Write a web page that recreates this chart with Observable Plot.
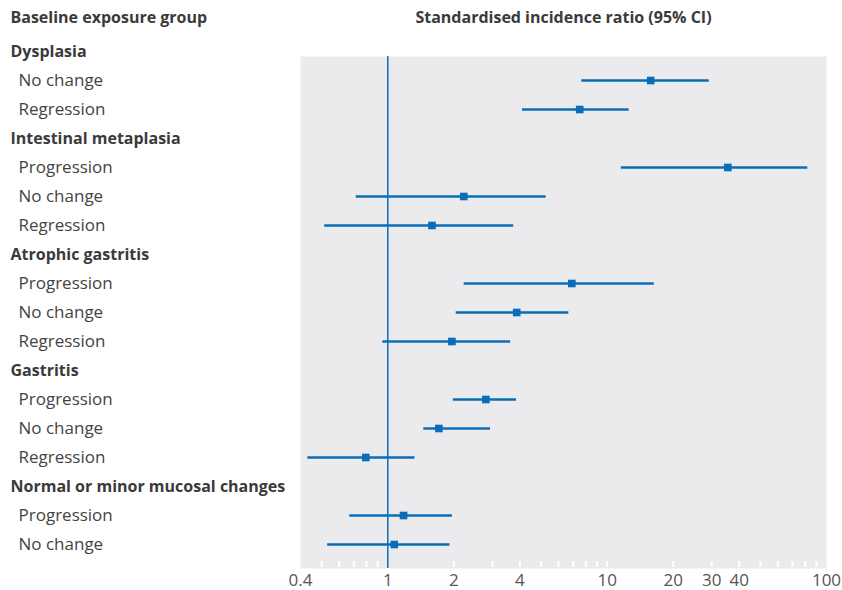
<!DOCTYPE html>
<html><head><meta charset="utf-8">
<script src="https://cdn.jsdelivr.net/npm/d3@7"></script>
<script src="https://cdn.jsdelivr.net/npm/@observablehq/plot@0.6"></script>
<style>body{margin:0;background:#fff;} svg{display:block}</style>
</head><body><div id="chart"></div>
<script>
const groups = ["Dysplasia", "Intestinal metaplasia", "Atrophic gastritis", "Gastritis", "Normal or minor mucosal changes"];
const itemGroup = ["Dysplasia", "Dysplasia",
  "Intestinal metaplasia", "Intestinal metaplasia", "Intestinal metaplasia",
  "Atrophic gastritis", "Atrophic gastritis", "Atrophic gastritis",
  "Gastritis", "Gastritis", "Gastritis",
  "Normal or minor mucosal changes", "Normal or minor mucosal changes"];
const itemChange = ["No change", "Regression",
  "Progression", "No change", "Regression",
  "Progression", "No change", "Regression",
  "Progression", "No change", "Regression",
  "Progression", "No change"];
const sir   = [15.8, 7.5, 35.5, 2.22, 1.59, 6.9, 3.87, 1.96, 2.8, 1.71, 0.794, 1.18, 1.07];
const lower = [7.66, 4.11, 11.6, 0.718, 0.516, 2.23, 2.05, 0.949, 1.99, 1.46, 0.432, 0.671, 0.532];
const upper = [29.2, 12.6, 82.2, 5.27, 3.75, 16.4, 6.69, 3.63, 3.86, 2.94, 1.33, 1.97, 1.92];
const xTicks = [0.4, 1, 2, 4, 10, 20, 30, 40, 100];
const minorTicks = [0.5, 0.6, 0.7, 0.8, 0.9, 2, 3, 4, 5, 6, 7, 8, 9, 10, 20, 30, 40, 50, 60, 70, 80, 90];
const headerLeft = "Baseline exposure group";
const headerRight = "Standardised incidence ratio (95% CI)";

const items = itemGroup.map((g, i) => ({id: g + "|" + itemChange[i], label: itemChange[i], sir: sir[i], lo: lower[i], hi: upper[i]}));
const groupRows = groups.map(g => ({id: g, label: g}));
const rowIds = [];
groups.forEach(g => { rowIds.push(g); items.filter((d, i) => itemGroup[i] === g).forEach(d => rowIds.push(d.id)); });

const blue = "#0b6cb8";
const plot = Plot.plot({
  width: 842, height: 590,
  marginLeft: 300, marginRight: 16, marginTop: 56, marginBottom: 22,
  style: {fontFamily: "'Open Sans', sans-serif", fontSize: "16px", color: "#444", background: "#fff"},
  x: {type: "log", domain: [0.4, 100]},
  y: {type: "point", domain: rowIds, range: [50, 545], padding: 0, axis: null},
  marks: [
    Plot.frame({fill: "#ebebee", stroke: null}),
    Plot.tickX(minorTicks, {x: d => d, stroke: "white", strokeWidth: 2, insetTop: 505, insetBottom: 1}),
    Plot.ruleX([1], {stroke: blue, strokeWidth: 1.5}),
    Plot.ruleY(items, {y: "id", x1: "lo", x2: "hi", stroke: blue, strokeWidth: 2.5}),
    Plot.dot(items, {x: "sir", y: "id", symbol: "square", r: 4.3, fill: blue, stroke: null}),
    Plot.text(groupRows, {y: "id", text: "label", frameAnchor: "left", dx: -290, textAnchor: "start", fontWeight: "bold", fontSize: 16, fill: "#3a3a3a"}),
    Plot.text(items, {y: "id", text: "label", frameAnchor: "left", dx: -282, textAnchor: "start", fontSize: 17, fill: "#444"}),
    Plot.text([headerLeft], {frameAnchor: "top-left", dx: -290, dy: -39, lineAnchor: "middle", textAnchor: "start", fontWeight: "bold", fontSize: 16, fill: "#3a3a3a"}),
    Plot.text([headerRight], {frameAnchor: "top", dy: -39, lineAnchor: "middle", fontWeight: "bold", fontSize: 16, fill: "#3a3a3a"}),
    Plot.axisX({ticks: xTicks, tickSize: 0, tickPadding: 5, tickFormat: d => String(d), fontSize: 17, fill: "#555", label: null})
  ]
});
document.getElementById("chart").appendChild(plot);
</script>
</body></html>
